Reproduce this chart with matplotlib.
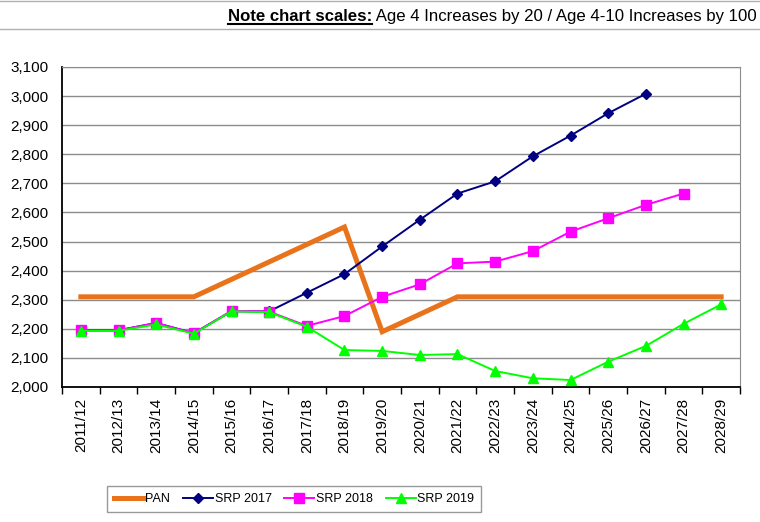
import matplotlib
matplotlib.use('Agg')
import matplotlib.pyplot as plt
from matplotlib.ticker import FuncFormatter, FixedLocator
from matplotlib import font_manager
import numpy as np

plt.rcParams['font.family'] = ['Liberation Sans', 'DejaVu Sans']

years = ['2011/12', '2012/13', '2013/14', '2014/15', '2015/16', '2016/17',
         '2017/18', '2018/19', '2019/20', '2020/21', '2021/22', '2022/23',
         '2023/24', '2024/25', '2025/26', '2026/27', '2027/28', '2028/29']

pan = [2310, 2310, 2310, 2310, 2370, 2430, 2490, 2550, 2190, 2250, 2310,
       2310, 2310, 2310, 2310, 2310, 2310, 2310]
srp_2017 = [2195, 2195, 2220, 2185, 2260, 2260, 2324, 2388, 2483, 2575,
            2665, 2707, 2793, 2864, 2941, 3008]
srp_2018 = [2195, 2195, 2220, 2185, 2262, 2259, 2210, 2244, 2310, 2353,
            2425, 2431, 2467, 2534, 2580, 2626, 2665]
srp_2019 = [2193, 2193, 2215, 2183, 2260, 2257, 2207, 2127, 2124, 2110,
            2113, 2055, 2030, 2024, 2087, 2141, 2217, 2284]

fig = plt.figure(figsize=(7.6, 5.22), dpi=100)
ax = fig.add_axes([62 / 760, 1 - 387 / 522, 678 / 760, 320 / 522])

x = np.arange(len(years))
ax.plot(x, pan, color='#E8731A', linewidth=3.6, label='PAN', zorder=3,
        solid_joinstyle='miter')
ax.plot(x[:len(srp_2017)], srp_2017, color='#000080', linewidth=1.4,
        marker='D', markersize=5.5, label='SRP 2017', zorder=4)
ax.plot(x[:len(srp_2018)], srp_2018, color='#FF00FF', linewidth=1.4,
        marker='s', markersize=6.5, label='SRP 2018', zorder=5)
ax.plot(x[:len(srp_2019)], srp_2019, color='#00FF00', linewidth=1.4,
        marker='^', markersize=7, label='SRP 2019', zorder=6)

ax.set_xlim(-0.5, len(years) - 0.5)
ax.set_ylim(2000, 3100)
ax.set_yticks(np.arange(2000, 3101, 100))
ax.yaxis.set_major_formatter(FuncFormatter(lambda v, p: f'{int(v):,}'))
ax.tick_params(axis='y', length=0, labelsize=11, pad=10)
ax.grid(axis='y', color='#8c8c8c', linewidth=1)
ax.set_axisbelow(True)

ax.set_xticks(x)
ax.set_xticklabels(years, rotation=90, fontsize=11)
ax.tick_params(axis='x', which='major', length=0, pad=8)
ax.xaxis.set_minor_locator(FixedLocator(np.arange(-0.5, len(years), 1)))
ax.tick_params(axis='x', which='minor', length=5, width=1, color='black')

for s in ['top', 'right']:
    ax.spines[s].set_color('#8c8c8c')
for s in ['left', 'bottom']:
    ax.spines[s].set_color('black')
    ax.spines[s].set_linewidth(1.3)

# legend text in the reference is condensed
names = {f.name for f in font_manager.fontManager.ttflist}
if 'Liberation Sans Narrow' in names:
    leg_font = dict(family='Liberation Sans Narrow', size=10)
else:
    leg_font = dict(family='Liberation Sans', size=9)

leg = ax.legend(loc='center', bbox_to_anchor=(294 / 760, 1 - 499 / 522),
                bbox_transform=fig.transFigure, ncol=4, prop=leg_font,
                frameon=True, fancybox=False, handlelength=2.4,
                columnspacing=1.0, handletextpad=0.15, borderpad=0.55)
leg.get_frame().set_edgecolor('#808080')
leg.get_frame().set_linewidth(1)

# header note
fig.add_artist(plt.Line2D([0, 1], [1 - 1 / 522, 1 - 1 / 522], color='#b0b0b0', linewidth=1))
fig.add_artist(plt.Line2D([0, 1], [1 - 29 / 522, 1 - 29 / 522], color='#b0b0b0', linewidth=1))
note = fig.text(757 / 760, 1 - 21 / 522, ' Age 4 Increases by 20 / Age 4-10 Increases by 100',
                ha='right', va='baseline', fontsize=12.1)
fig.canvas.draw()
r = fig.canvas.get_renderer()
bb = note.get_window_extent(r)
bold = fig.text(bb.x0 / 760, 1 - 21 / 522, 'Note chart scales:', ha='right',
                va='baseline', fontsize=12.1, fontweight='bold')
bb2 = bold.get_window_extent(r)
y_ul = (522 - 24) / 522
fig.add_artist(plt.Line2D([bb2.x0 / 760, bb2.x1 / 760], [y_ul, y_ul],
                          color='black', linewidth=1.5))

fig.savefig('out.png', dpi=100)
